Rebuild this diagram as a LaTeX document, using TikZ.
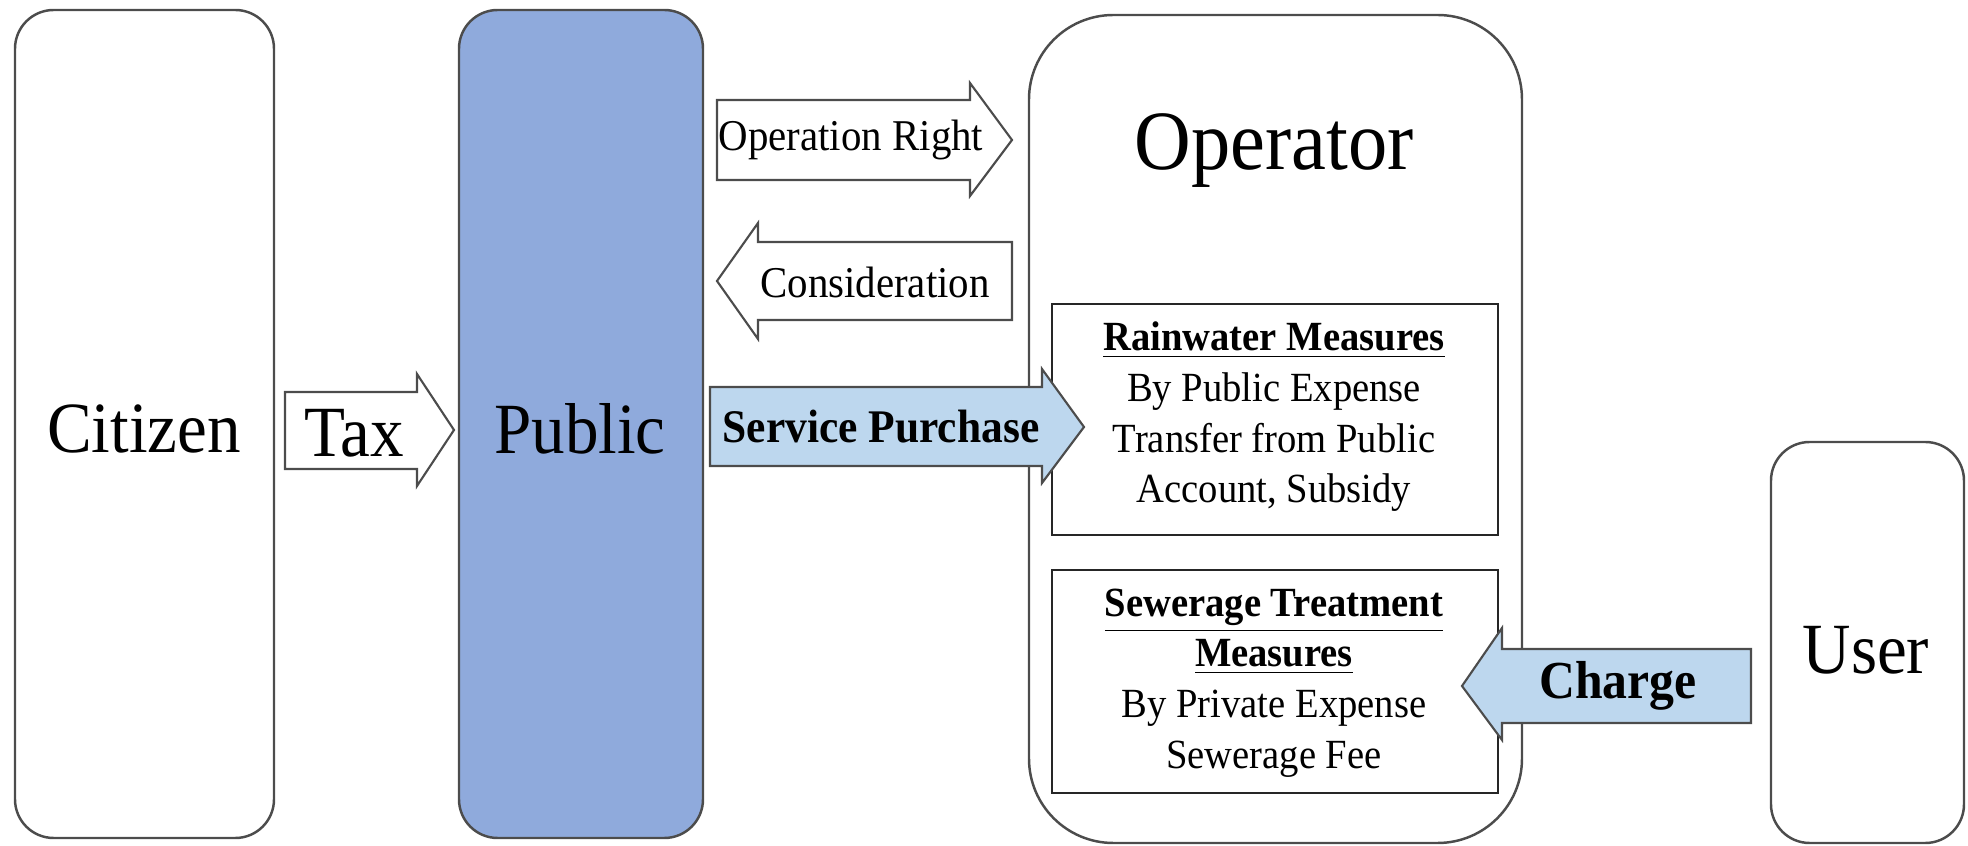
\documentclass[tikz,border=0pt]{standalone}
\usepackage{fontspec}
\setmainfont{Liberation Serif}[FakeStretch=0.93]
\definecolor{publicblue}{HTML}{8FAADC}
\definecolor{flowblue}{HTML}{BDD7EE}
\begin{document}
\begin{tikzpicture}[x=0.01cm,y=-0.01cm,
    party/.style={draw=black!70, line width=0.7pt, rounded corners=11pt},
    flow/.style={draw=black!70, line width=0.6pt, fill=white},
    measure/.style={draw=black!85, line width=0.7pt},
    bigtext/.style={font=\fontsize{20.5}{24}\selectfont, inner sep=0pt},
    flowtext/.style={font=\fontsize{12.5}{15}\selectfont, inner sep=0pt},
    measuretext/.style={font=\fontsize{11.8}{14.4}\selectfont, align=center, inner sep=0pt}]
      \useasboundingbox (0,0) rectangle (1968,846);
      % parties
      \draw[party] (15,10) rectangle (274,838);
      \node[bigtext] (citizen) at (144,429) {Citizen};
      \draw[party, fill=publicblue] (459,10) rectangle (703,838);
      \node[bigtext] (public) at (580,429) {Public};
      \draw[party, rounded corners=24pt] (1029,15) rectangle (1522,843);
      \node[font=\fontsize{24}{28}\selectfont, inner sep=0pt] (operator) at (1274,151) {Operator};
      \draw[party] (1771,442) rectangle (1964,843);
      \node[bigtext] (user) at (1866,650) {User};
      % measures inside the operator
      \draw[measure] (1052,304) rectangle (1498,535);
      \node[measuretext] (rain) at (1274,417) {\textbf{\underline{Rainwater Measures}}\\By Public Expense\\Transfer from Public\\Account, Subsidy};
      \draw[measure] (1052,570) rectangle (1498,793);
      \node[measuretext] (sewer) at (1274,683) {\textbf{\underline{Sewerage Treatment}}\\\textbf{\underline{Measures}}\\By Private Expense\\Sewerage Fee};
      % block arrows
      \draw[flow] (285,392) -- (417,392) -- (417,374) -- (454,430) -- (417,486) -- (417,469) -- (285,469) -- cycle;
      \node[bigtext] (tax) at (354,433) {Tax};
      \draw[flow] (717,100) -- (970,100) -- (970,83) -- (1012,140) -- (970,196) -- (970,180) -- (717,180) -- cycle;
      \node[flowtext] (right) at (851,140) {Operation Right};
      \draw[flow] (1012,242) -- (758,242) -- (758,223) -- (717,281) -- (758,339) -- (758,320) -- (1012,320) -- cycle;
      \node[flowtext] (consid) at (875,282) {Consideration};
      \draw[flow, fill=flowblue] (710,387) -- (1042,387) -- (1042,369) -- (1084,427) -- (1042,483) -- (1042,466) -- (710,466) -- cycle;
      \node[font=\fontsize{13.3}{16}\selectfont\bfseries, inner sep=0pt] (purchase) at (881,427) {Service Purchase};
      \draw[flow, fill=flowblue] (1751,649) -- (1502,649) -- (1502,628) -- (1462,686) -- (1502,740) -- (1502,723) -- (1751,723) -- cycle;
      \node[font=\fontsize{15.2}{18}\selectfont\bfseries, inner sep=0pt] (charge) at (1618,686) {Charge};
    \end{tikzpicture}
\end{document}
